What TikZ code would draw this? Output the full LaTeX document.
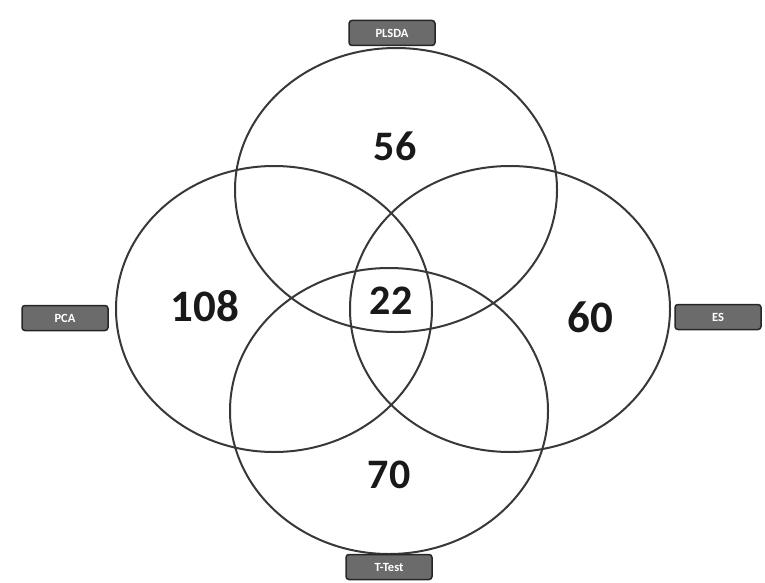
\documentclass[tikz,border=0pt]{standalone}
\usepackage{fontspec}
\setmainfont{Carlito}
\begin{document}
\begin{tikzpicture}[x=1pt,y=-1pt,
  ring/.style={draw=black!78,line width=2pt},
  tag/.style={draw=black!85,line width=1.5pt,fill=black!58,rounded corners=3pt,
    minimum width=86pt,minimum height=25pt,text=white,font=\bfseries\fontsize{12.5}{13}\selectfont,inner sep=0pt},
  num/.style={font=\bfseries\fontsize{42}{44}\selectfont,text=black!90,inner sep=0pt}]
\useasboundingbox (0,0) rectangle (765,583);
\draw[ring] (396,190) ellipse [x radius=161, y radius=142];
\draw[ring] (274,309) ellipse [x radius=158, y radius=143];
\draw[ring] (510,309) ellipse [x radius=160, y radius=143];
\draw[ring] (389,411) ellipse [x radius=159, y radius=143];
\node[tag] (plsda) at (392,33) {PLSDA};
\node[tag] (pca) at (65,318) {PCA};
\node[tag] (es) at (718,317) {ES};
\node[tag] (ttest) at (389,567) {T-Test};
\node[num] (n56) at (395,146) {56};
\node[num,font=\bfseries\fontsize{45}{46}\selectfont] (n108) at (205,306) {108};
\node[num] (n22) at (391,301) {22};
\node[num,font=\bfseries\fontsize{45}{46}\selectfont] (n60) at (590,317) {60};
\node[num] (n70) at (389,475) {70};
\end{tikzpicture}
\end{document}
